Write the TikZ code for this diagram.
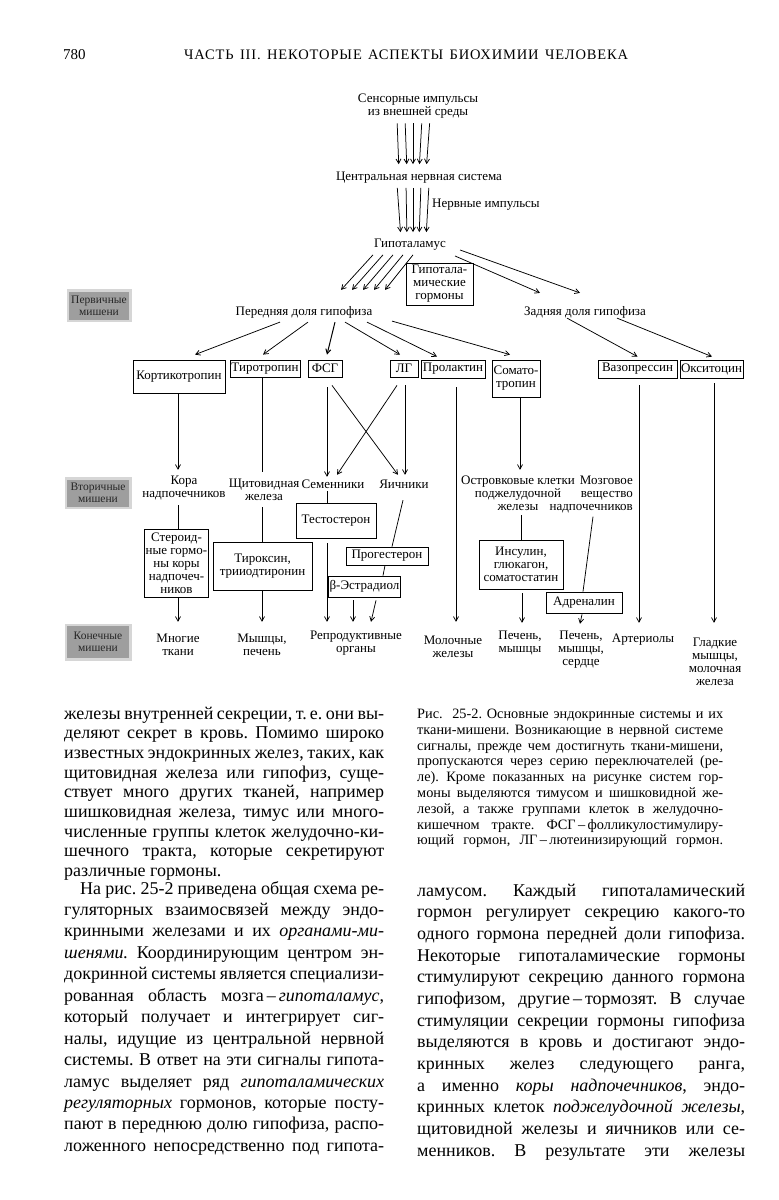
\documentclass[tikz,border=0pt]{standalone}
\usepackage{fontspec}
\setmainfont{Liberation Serif}
\newfontfamily\hdrfont[LetterSpace=6]{Liberation Serif}
\usetikzlibrary{arrows.meta}
\frenchspacing
\newcommand\jl[2]{\hbox to #1{\spaceskip=0.25em plus 3em minus 0.12em\relax #2}}
\newcommand\dfont{\fontsize{13}{13}\selectfont}
\newcommand\gfont{\fontsize{11.5}{12}\selectfont}
\newcommand\bfont{\fontsize{18}{18}\selectfont}
\newcommand\cfont{\fontsize{14.3}{14}\selectfont}
\begin{document}
\begin{tikzpicture}[x=1pt,y=-1pt,
  lbl/.style={inner sep=0pt, align=center, font=\dfont},
  bx/.style={draw, line width=0.8pt, inner sep=1pt, align=center, font=\dfont},
  ln/.style={line width=0.75pt},
  arr/.style={ln, -{Straight Barb[length=4.5pt,width=5pt]}},
  greylbl/.style={fill=black!38, inner sep=0pt, align=center, font=\gfont, text=black!85,
    preaction={draw=black!16, line width=5pt}},
  bodytxt/.style={anchor=base west, inner sep=0pt, font=\bfont},
  captxt/.style={anchor=base west, inner sep=0pt, font=\cfont},
]
\useasboundingbox (0,0) rectangle (779,1200);
\fill[white] (0,0) rectangle (779,1200);

% header
\node[anchor=base west, inner sep=0pt, font=\fontsize{15}{15}\selectfont] (pg) at (63,59) {780};
\node[anchor=base west, inner sep=0pt, font=\hdrfont\fontsize{14.5}{14}\selectfont] (hdr) at (184,59) {\jl{444pt}{ЧАСТЬ III. НЕКОТОРЫЕ АСПЕКТЫ БИОХИМИИ ЧЕЛОВЕКА}};

% grey level labels
\node[greylbl, minimum width=60pt, minimum height=28pt] (g1) at (99,305.5) {Первичные\\мишени};
\node[greylbl, minimum width=62pt, minimum height=27pt] (g2) at (98,493) {Вторичные\\мишени};
\node[greylbl, minimum width=62pt, minimum height=32pt] (g3) at (98,642) {Конечные\\мишени};

% top
\node[lbl] (sens) at (418,106) {Сенсорные импульсы\\из внешней среды};
\node[lbl] (cns) at (419,178) {Центральная нервная система};
\node[lbl, anchor=west] (nimp) at (432,205) {Нервные импульсы};
\node[lbl] (hyp) at (410,245) {Гипоталамус};
\node[bx, minimum width=67pt, minimum height=42pt] (hgb) at (439.5,284) {Гипотала-\\мические\\гормоны};
\node[lbl] (ant) at (304,312) {Передняя доля гипофиза};
\node[lbl] (post) at (585,312) {Задняя доля гипофиза};

\foreach \a/\b in {-21/-20,-13/-12,-5/-6,4/0,12/7}
  \draw[arr, shorten <=5pt, shorten >=8pt] ([xshift=\a pt]sens.south) -- ([xshift=\b pt]cns.north);
\foreach \a/\b in {-22/-9,-13/-3,-6/3,2/9,10/16}
  \draw[arr, shorten <=4pt, shorten >=7pt] ([xshift=\a pt]cns.south) -- ([xshift=\b pt]hyp.north);
\foreach \a/\b in {-37/37,-27/48,-17/59,-7/70,3/81}
  \draw[arr] ([xshift=\a pt,yshift=-4pt]hyp.south) -- ([xshift=\b pt,yshift=16pt]ant.north);
\draw[arr] ([xshift=14pt,yshift=-5pt]hyp.east) -- ([xshift=-5pt,yshift=13pt]post.north);
\draw[arr] ([xshift=9pt,yshift=-11pt]hyp.east) -- ([xshift=-45pt,yshift=13pt]post.north);

% first row boxes
\node[bx, minimum width=92pt, minimum height=33pt] (kort) at (179,376.5) {Кортикотропин};
\node[bx, minimum width=70pt, minimum height=17pt] (tiro) at (265,368.5) {Тиротропин};
\node[bx, minimum width=34pt, minimum height=17pt] (fsg) at (325,368.5) {ФСГ};
\node[bx, minimum width=28pt, minimum height=17pt] (lg) at (404,368.5) {ЛГ};
\node[bx, minimum width=64pt, minimum height=18pt] (prol) at (453,369) {Пролактин};
\node[bx, minimum width=48pt, minimum height=37pt] (soma) at (516,378.5) {Сомато-\\тропин};
\node[bx, minimum width=79pt, minimum height=18pt] (vaso) at (637.5,369) {Вазопрессин};
\node[bx, minimum width=57pt, minimum height=18pt] (oksi) at (711.5,369) {Окситоцин};

\draw[arr] ([xshift=-24pt,yshift=-4pt]ant.south) -- ([xshift=16pt,yshift=5pt]kort.north);
\draw[arr] ([xshift=4pt,yshift=-4pt]ant.south) -- ([xshift=-2pt,yshift=5pt]tiro.north);
\draw[arr, line width=1pt] ([xshift=31pt,yshift=-4pt]ant.south) -- ([xshift=2pt,yshift=5pt]fsg.north);
\draw[arr] ([xshift=41pt,yshift=-4pt]ant.south) -- ([xshift=-4pt,yshift=5pt]lg.north);
\draw[arr] ([xshift=63pt,yshift=-4pt]ant.south) -- ([xshift=-16pt,yshift=3pt]prol.north);
\draw[arr] ([xshift=88pt,yshift=-3pt]ant.south) -- ([xshift=-6pt,yshift=5pt]soma.north);
\draw[arr] ([xshift=-18pt,yshift=0pt]post.south) -- ([yshift=3pt]vaso.north);
\draw[arr] ([xshift=32pt,yshift=0pt]post.south) -- ([xshift=0.5pt,yshift=3pt]oksi.north);

% second row labels
\node[lbl, minimum height=34pt] (kora) at (184,488) {Кора\\надпочечников};
\node[lbl, minimum height=34pt] (schit) at (264,490) {Щитовидная\\железа};
\node[lbl, minimum height=14pt] (semen) at (333,484) {Семенники};
\node[lbl, minimum height=14pt] (yaich) at (404,484) {Яичники};
\node[lbl, minimum height=44pt] (ostr) at (518,493) {Островковые клетки\\поджелудочной\\железы};
\node[lbl, minimum height=44pt, anchor=east, align=right] (mozg) at (633,494.5) {Мозговое\\вещество\\надпочечников};

\draw[arr] ([xshift=-1pt]kort.south) -- ([xshift=-6pt,yshift=1pt]kora.north);
\draw[ln] ([xshift=-3pt]tiro.south) -- ([xshift=-2pt,yshift=1pt]schit.north);
\draw[arr] ([xshift=2pt,yshift=-10pt]fsg.south) -- ([xshift=-6pt]semen.north);
\draw[arr] ([xshift=7pt,yshift=-8pt]fsg.south) -- ([xshift=-6pt,yshift=2pt]yaich.north);
\draw[arr] ([xshift=-7pt,yshift=-8pt]lg.south) -- ([xshift=4pt,yshift=2pt]semen.north);
\draw[arr] ([xshift=1pt,yshift=-8pt]lg.south) -- ([xshift=1pt,yshift=2pt]yaich.north);
\draw[arr] ([xshift=4pt,yshift=-1pt]soma.south) -- ([xshift=2pt,yshift=1pt]ostr.north);

% second row boxes
\node[bx, minimum width=61pt, minimum height=68pt] (ster) at (176.5,563) {Стероид-\\ные гормо-\\ны коры\\надпочеч-\\ников};
\node[bx, minimum width=99pt, minimum height=48pt] (tirox) at (262.5,566) {Тироксин,\\трииодтиронин};
\node[bx, minimum width=80pt, minimum height=35pt] (testo) at (336,520.5) {Тестостерон};
\node[bx, minimum width=82pt, minimum height=18pt] (proge) at (387,556) {Прогестерон};
\node[bx, minimum width=71pt, minimum height=21pt] (estr) at (364.5,586.5) {β-Эстрадиол};
\node[bx, minimum width=84pt, minimum height=49pt] (insul) at (521,564.5) {Инсулин,\\глюкагон,\\соматостатин};
\node[bx, minimum width=76pt, minimum height=21pt] (adren) at (584,602.5) {Адреналин};

% third row labels
\node[lbl, minimum height=30pt] (mnog) at (178,644.5) {Многие\\ткани};
\node[lbl, minimum height=30pt] (mysh) at (262,644.5) {Мышцы,\\печень};
\node[lbl, minimum height=30pt] (repr) at (356,643) {Репродуктивные\\органы};
\node[lbl, minimum height=30pt] (molo) at (453,646.5) {Молочные\\железы};
\node[lbl, minimum height=30pt] (pech1) at (520,643) {Печень,\\мышцы};
\node[lbl, minimum height=43pt] (pech2) at (581,650) {Печень,\\мышцы,\\сердце};
\node[lbl, minimum height=14pt] (arter) at (643,640) {Артериолы};
\node[lbl, minimum height=56pt] (glad) at (715,661.5) {Гладкие\\мышцы,\\молочная\\железа};

\draw[ln] ([xshift=-6pt]kora.south) -- ([xshift=1.5pt]ster.north);
\draw[arr] ([xshift=1.5pt]ster.south) -- ([yshift=7.5pt]mnog.north);
\draw[ln] ([xshift=-2pt]schit.south) -- ([xshift=-0.5pt]tirox.north);
\draw[arr] ([xshift=-0.5pt]tirox.south) -- ([yshift=7.5pt]mysh.north);
\draw[ln] ([xshift=-6pt]semen.south) -- ([xshift=-9pt]testo.north);
\draw[arr] ([xshift=-9pt,yshift=-5pt]testo.south) -- ([xshift=-29pt,yshift=6pt]repr.north);
\draw[ln] ([xshift=-1pt,yshift=-9pt]yaich.south) -- ([xshift=5pt]proge.north);
\draw[ln] ([xshift=-2pt]proge.south) -- ([xshift=18.5pt]estr.north);
\draw[arr] ([xshift=-11.5pt,yshift=-3pt]estr.south) -- ([xshift=-3pt,yshift=6pt]repr.north);
\draw[arr] ([xshift=11.5pt,yshift=-3pt]estr.south) -- ([xshift=15pt,yshift=6pt]repr.north);
\draw[arr] ([xshift=3pt,yshift=-9pt]prol.south) -- ([xshift=3pt,yshift=9.5pt]molo.north);
\draw[ln] ([xshift=3pt]ostr.south) -- (insul.north);
\draw[arr] ([xshift=1pt,yshift=-4pt]insul.south) -- ([xshift=2pt,yshift=5pt]pech1.north);
\draw[ln] ([xshift=-40pt]mozg.south east) -- ([xshift=-1pt]adren.north);
\draw[arr] ([xshift=-2pt,yshift=-1pt]adren.south) -- ([xshift=-1pt,yshift=4.5pt]pech2.north);
\draw[arr] ([xshift=1.5pt,yshift=-7pt]vaso.south) -- ([xshift=-4pt,yshift=10pt]arter.north);
\draw[arr] ([xshift=2.5pt,yshift=-5pt]oksi.south) -- ([xshift=-1pt,yshift=10.5pt]glad.north);

% caption
\node[captxt] (c1) at (417,718.5) {\jl{306pt}{Рис.\ \ 25-2. Основные эндокринные системы и их}};
\node[captxt] (c2) at (417,734.3) {\jl{306pt}{ткани-мишени. Возникающие в нервной системе}};
\node[captxt] (c3) at (417,750.1) {\jl{306pt}{сигналы, прежде чем достигнуть ткани-мишени,}};
\node[captxt] (c4) at (417,765.9) {\jl{306pt}{пропускаются через серию переключателей (ре-}};
\node[captxt] (c5) at (417,781.7) {\jl{306pt}{ле). Кроме показанных на рисунке систем гор-}};
\node[captxt] (c6) at (417,797.5) {\jl{306pt}{моны выделяются тимусом и шишковидной же-}};
\node[captxt] (c7) at (417,813.3) {\jl{306pt}{лезой, а также группами клеток в желудочно-}};
\node[captxt] (c8) at (417,829.1) {\jl{306pt}{кишечном тракте. ФСГ\,–\,фолликулостимулиру-}};
\node[captxt] (c9) at (417,844.9) {\jl{306pt}{ющий гормон, ЛГ\,–\,лютеинизирующий гормон.}};

% left column
\node[bodytxt] (l1) at (64,719) {\jl{320pt}{железы внутренней секреции, т.\,е. они вы-}};
\node[bodytxt] (l2) at (64,738.7) {\jl{320pt}{деляют секрет в кровь. Помимо широко}};
\node[bodytxt] (l3) at (64,758.4) {\jl{320pt}{известных эндокринных желез, таких, как}};
\node[bodytxt] (l4) at (64,778.1) {\jl{320pt}{щитовидная железа или гипофиз, суще-}};
\node[bodytxt] (l5) at (64,797.8) {\jl{320pt}{ствует много других тканей, например}};
\node[bodytxt] (l6) at (64,817.5) {\jl{320pt}{шишковидная железа, тимус или много-}};
\node[bodytxt] (l7) at (64,837.2) {\jl{320pt}{численные группы клеток желудочно-ки-}};
\node[bodytxt] (l8) at (64,856.9) {\jl{320pt}{шечного тракта, которые секретируют}};
\node[bodytxt] (l9) at (64,876.6) {различные гормоны.};
\node[bodytxt] (m1) at (80,894) {\jl{304pt}{На рис. 25-2 приведена общая схема ре-}};
\node[bodytxt] (m2) at (64,915.4) {\jl{320pt}{гуляторных взаимосвязей между эндо-}};
\node[bodytxt] (m3) at (64,936.9) {\jl{320pt}{кринными железами и их {\itshape органами-ми-}}};
\node[bodytxt] (m4) at (64,958.3) {\jl{320pt}{{\itshape шенями.} Координирующим центром эн-}};
\node[bodytxt] (m5) at (64,979.8) {\jl{320pt}{докринной системы является специализи-}};
\node[bodytxt] (m6) at (64,1001.2) {\jl{320pt}{рованная область мозга\,–\,{\itshape гипоталамус},}};
\node[bodytxt] (m7) at (64,1022.7) {\jl{320pt}{который получает и интегрирует сиг-}};
\node[bodytxt] (m8) at (64,1044.1) {\jl{320pt}{налы, идущие из центральной нервной}};
\node[bodytxt] (m9) at (64,1065.6) {\jl{320pt}{системы. В ответ на эти сигналы гипота-}};
\node[bodytxt] (m10) at (64,1087) {\jl{320pt}{ламус выделяет ряд {\itshape гипоталамических}}};
\node[bodytxt] (m11) at (64,1108.5) {\jl{320pt}{{\itshape регуляторных} гормонов, которые посту-}};
\node[bodytxt] (m12) at (64,1129.9) {\jl{320pt}{пают в переднюю долю гипофиза, распо-}};
\node[bodytxt] (m13) at (64,1151.4) {\jl{320pt}{ложенного непосредственно под гипота-}};

% right column
\node[bodytxt] (r1) at (417,896) {\jl{328pt}{ламусом. Каждый гипоталамический}};
\node[bodytxt] (r2) at (417,917.7) {\jl{328pt}{гормон регулирует секрецию какого-то}};
\node[bodytxt] (r3) at (417,939.3) {\jl{328pt}{одного гормона передней доли гипофиза.}};
\node[bodytxt] (r4) at (417,961) {\jl{328pt}{Некоторые гипоталамические гормоны}};
\node[bodytxt] (r5) at (417,982.7) {\jl{328pt}{стимулируют секрецию данного гормона}};
\node[bodytxt] (r6) at (417,1004.3) {\jl{328pt}{гипофизом, другие\,–\,тормозят. В случае}};
\node[bodytxt] (r7) at (417,1026) {\jl{328pt}{стимуляции секреции гормоны гипофиза}};
\node[bodytxt] (r8) at (417,1047.7) {\jl{328pt}{выделяются в кровь и достигают эндо-}};
\node[bodytxt] (r9) at (417,1069.4) {\jl{328pt}{кринных желез следующего ранга,}};
\node[bodytxt] (r10) at (417,1091) {\jl{328pt}{а именно {\itshape коры надпочечников}, эндо-}};
\node[bodytxt] (r11) at (417,1112.7) {\jl{328pt}{кринных клеток {\itshape поджелудочной железы},}};
\node[bodytxt] (r12) at (417,1134.4) {\jl{328pt}{щитовидной железы и яичников или се-}};
\node[bodytxt] (r13) at (417,1156) {\jl{328pt}{менников. В результате эти железы}};
\end{tikzpicture}
\end{document}
